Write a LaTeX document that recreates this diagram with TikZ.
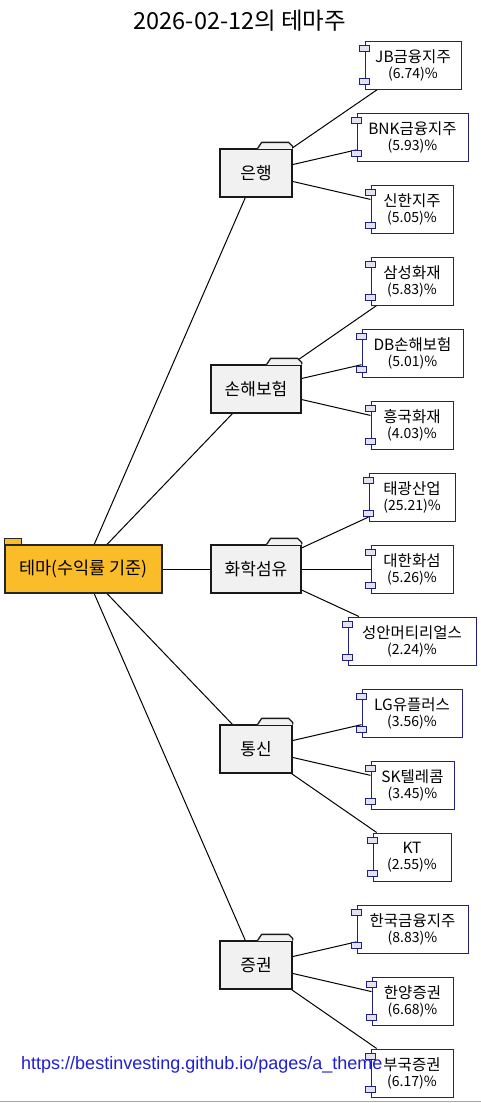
\documentclass[tikz,border=0pt]{standalone}
\usepackage{fontspec}
\setmainfont{Noto Sans CJK KR}
\newfontfamily\linkfont{Liberation Sans}
\usepackage{xcolor}
\usepackage{tikz}
\definecolor{themecolor}{RGB}{251, 188, 42}
\definecolor{groupcolor}{RGB}{241, 241, 241}
\definecolor{stockline}{RGB}{32, 32, 128}
\definecolor{pincolor}{RGB}{226, 226, 242}
\definecolor{linkcolor}{RGB}{30, 30, 210}
\usetikzlibrary{calc, backgrounds}

\newcommand{\foldertab}[1]{
    \fill[groupcolor] ($(#1.north east)+(-35,0.6)$) -- ++(4,-6.6) -- ++(27,0) -- ++(4,4) -- ++(0,2.6) -- cycle;
    \draw[tabline] ($(#1.north east)+(-35,0)$) -- ++(4,-6) -- ++(27,0) -- ++(4,4) -- ++(0,2);
}
\newcommand{\stockpins}[1]{
    \filldraw[pinbox] ($(#1.north west)+(-5,5)$) rectangle ++(10,6);
    \filldraw[pinbox] ($(#1.south west)+(-5,-11)$) rectangle ++(10,6);
}
\newcommand{\stocktext}[2]{{\fontsize{15.5}{16}\selectfont #1}\\(#2)\%}

\begin{document}
\begin{tikzpicture}[x=1pt, y=-1pt,
    titletext/.style={font=\fontsize{23.5}{26}\selectfont, anchor=base},
    themebox/.style={rectangle, draw=black!85, line width=1.2pt, fill=themecolor, minimum width=157pt, minimum height=48pt, font=\fontsize{17.5}{20}\selectfont},
    groupbox/.style={rectangle, draw=black!90, line width=1.3pt, fill=groupcolor, minimum height=48pt, font=\fontsize{17}{20}\selectfont},
    tabline/.style={draw=black!90, line width=1.3pt, line join=round},
    stockbox/.style={rectangle, draw=stockline, line width=1pt, fill=white, minimum height=48pt, align=center, inner sep=2pt, font=\fontsize{14}{16}\selectfont},
    pinbox/.style={draw=stockline, fill=pincolor, line width=0.9pt},
    link/.style={draw=black, line width=1pt},
    urltext/.style={font=\linkfont\fontsize{18}{20}\selectfont, text=linkcolor, anchor=base west, inner sep=0pt}
]
    \useasboundingbox (0,0) rectangle (481,1103);

    \node[titletext] (title) at (240, 29) {2026-02-12의 테마주};

    \node[themebox] (theme) at (83.5, 569) {테마(수익률 기준)};
    \filldraw[draw=black!85, line width=1.2pt, fill=themecolor] ($(theme.north west)+(0,-6)$) rectangle ++(17,6);

    \node[groupbox, minimum width=72pt] (bank) at (256, 173) {은행};
    \node[groupbox, minimum width=90pt] (insure) at (256, 389) {손해보험};
    \node[groupbox, minimum width=90pt] (chem) at (256, 569) {화학섬유};
    \node[groupbox, minimum width=72pt] (telecom) at (256, 749) {통신};
    \node[groupbox, minimum width=72pt] (secur) at (256, 965) {증권};
    \foldertab{bank}
    \foldertab{insure}
    \foldertab{chem}
    \foldertab{telecom}
    \foldertab{secur}

    \node[stockbox, minimum width=96pt] (jb) at (413, 65) {\stocktext{JB금융지주}{6.74}};
    \node[stockbox, minimum width=111pt] (bnk) at (412.5, 137) {\stocktext{BNK금융지주}{5.93}};
    \node[stockbox, minimum width=82pt] (shinhan) at (412, 209) {\stocktext{신한지주}{5.05}};

    \node[stockbox, minimum width=82pt] (samsung) at (412, 281) {\stocktext{삼성화재}{5.83}};
    \node[stockbox, minimum width=101pt] (dbins) at (412.5, 353) {\stocktext{DB손해보험}{5.01}};
    \node[stockbox, minimum width=82pt] (heungkuk) at (412, 425) {\stocktext{흥국화재}{4.03}};

    \node[stockbox, minimum width=86pt] (taekwang) at (412, 497) {\stocktext{태광산업}{25.21}};
    \node[stockbox, minimum width=82pt] (daehan) at (412, 569) {\stocktext{대한화섬}{5.26}};
    \node[stockbox, minimum width=128pt] (seongan) at (412, 641) {\stocktext{성안머티리얼스}{2.24}};

    \node[stockbox, minimum width=100pt] (lgu) at (412, 713) {\stocktext{LG유플러스}{3.56}};
    \node[stockbox, minimum width=83pt] (skt) at (412.5, 785) {\stocktext{SK텔레콤}{3.45}};
    \node[stockbox, minimum width=78pt] (kt) at (412, 857) {\stocktext{KT}{2.55}};

    \node[stockbox, minimum width=111pt] (hankook) at (412.5, 929) {\stocktext{한국금융지주}{8.83}};
    \node[stockbox, minimum width=81pt] (hanyang) at (412.5, 1001) {\stocktext{한양증권}{6.68}};
    \node[stockbox, minimum width=82pt] (bookook) at (412, 1073) {\stocktext{부국증권}{6.17}};

    \stockpins{jb}
    \stockpins{bnk}
    \stockpins{shinhan}
    \stockpins{samsung}
    \stockpins{dbins}
    \stockpins{heungkuk}
    \stockpins{taekwang}
    \stockpins{daehan}
    \stockpins{seongan}
    \stockpins{lgu}
    \stockpins{skt}
    \stockpins{kt}
    \stockpins{hankook}
    \stockpins{hanyang}
    \stockpins{bookook}

    \begin{scope}[on background layer]
        \draw[link] (theme) -- (bank);
        \draw[link] (theme) -- (insure);
        \draw[link] (theme) -- (chem);
        \draw[link] (theme) -- (telecom);
        \draw[link] (theme) -- (secur);
        \draw[link] (bank) -- (jb);
        \draw[link] (bank) -- (bnk);
        \draw[link] (bank) -- (shinhan);
        \draw[link] (insure) -- (samsung);
        \draw[link] (insure) -- (dbins);
        \draw[link] (insure) -- (heungkuk);
        \draw[link] (chem) -- (taekwang);
        \draw[link] (chem) -- (daehan);
        \draw[link] (chem) -- (seongan);
        \draw[link] (telecom) -- (lgu);
        \draw[link] (telecom) -- (skt);
        \draw[link] (telecom) -- (kt);
        \draw[link] (secur) -- (hankook);
        \draw[link] (secur) -- (hanyang);
        \draw[link] (secur) -- (bookook);
    \end{scope}

    \node[urltext] (url) at (21, 1069) {https://bestinvesting.github.io/pages/a\_theme};
    \draw[black!35, line width=1.5pt] (0, 1101.5) -- (481, 1101.5);
\end{tikzpicture}
\end{document}
